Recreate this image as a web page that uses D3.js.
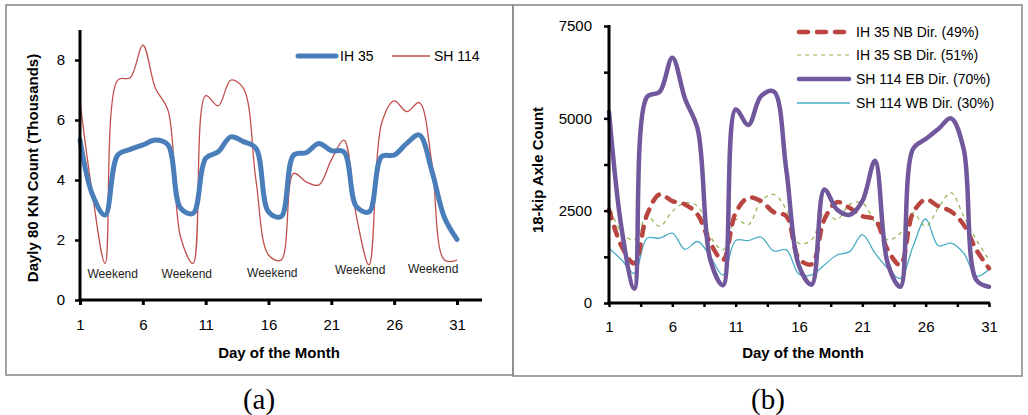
<!DOCTYPE html>
<html><head><meta charset="utf-8">
<script src="https://cdn.jsdelivr.net/npm/d3@7"></script>
<style>
html,body{margin:0;padding:0;background:#fff;}
svg{display:block;}
text{font-family:Arial,"Liberation Sans",sans-serif;}
</style></head>
<body>
<svg id="c" width="1028" height="415"></svg>
<script>
// ---------- data ----------
const days = d3.range(1, 32);
const ih35 = [5.33,3.5,2.83,4.83,5.02,5.17,5.33,5.17,3.06,2.89,4.72,4.94,5.44,5.28,5.06,2.94,2.78,4.83,4.91,5.22,4.98,4.94,3.11,2.94,4.78,4.83,5.22,5.5,4.3,2.75,2.02];
const sh114 = [6.61,3.5,1.22,7.33,7.41,8.5,7.06,6.33,2.1,1.22,6.81,6.47,7.33,7.06,4.0,1.5,1.33,4.22,3.94,3.83,4.67,5.33,2.78,1.17,5.89,6.64,6.28,6.58,4.56,1.33,1.33];
const leftXTicks = [1,6,11,16,21,26,31];
const leftYTicks = [0,2,4,6,8];
const weekendLabels = [{day:3.6,v:0.75},{day:9.5,v:0.75},{day:16.3,v:0.78},{day:23.3,v:0.88},{day:29.1,v:0.9}];

const ih35NB = [2530,1530,1075,2390,2940,2760,2670,2390,1620,1165,2440,2850,2760,2460,2350,1200,1050,2260,2730,2575,2350,2260,1440,1030,2440,2800,2620,2480,2120,1440,940];
const ih35SB = [2710,1890,1710,2350,2075,2480,2710,2620,1800,1440,2260,2120,2760,2940,2530,1620,1710,2440,2260,2670,2710,2170,1710,1890,2440,2075,2575,2985,2350,1710,1165];
const sh114EB = [5170,2000,390,5580,5715,6640,5530,4710,1165,480,5240,4820,5600,5730,3600,1000,500,3075,2530,2390,2760,3850,1075,440,4170,4440,4710,5000,4170,620,440];
const sh114WB = [1480,1165,800,1755,1755,1890,1455,1665,1255,755,1690,1690,1785,1410,1440,780,760,1030,1300,1390,1850,1350,940,665,1530,2275,1550,1620,1350,730,910];
const rightXTicks = [1,3.5,6,8.5,11,13.5,16,18.5,21,23.5,26,28.5,31];
const rightYTicks = [0,1250,2500,3750,5000,6250,7500];

const svg = d3.select("#c");

// panel borders
svg.append("rect").attr("x",6).attr("y",5).attr("width",507).attr("height",370)
  .attr("fill","none").attr("stroke","#8c8c8c").attr("stroke-width",1.6);
svg.append("rect").attr("x",513).attr("y",5).attr("width",509).attr("height",371)
  .attr("fill","none").attr("stroke","#8c8c8c").attr("stroke-width",1.6);

// captions
svg.append("text").attr("x",259).attr("y",409).attr("text-anchor","middle")
  .style("font-family","'Liberation Serif','Times New Roman',serif").style("font-size","29px").text("(a)");
svg.append("text").attr("x",768).attr("y",409).attr("text-anchor","middle")
  .style("font-family","'Liberation Serif','Times New Roman',serif").style("font-size","29px").text("(b)");

const curve = d3.curveCatmullRom.alpha(0.5);

// ---------- left chart ----------
{
  const x = d3.scaleLinear().domain([1,31]).range([80,457]);
  const y = d3.scaleLinear().domain([0,9]).range([300,30]);
  const g = svg.append("g");

  const line = arr => d3.line().x((d,i)=>x(days[i])).y(d=>y(d)).curve(curve)(arr);
  g.append("path").attr("d",line(sh114)).attr("fill","none").attr("stroke","#c0504d").attr("stroke-width",1.3);
  g.append("path").attr("d",line(ih35)).attr("fill","none").attr("stroke","#4a7ebb").attr("stroke-width",5).attr("stroke-linejoin","round").attr("stroke-linecap","round");

  // axes
  const xa = g.append("g").attr("transform","translate(0,300)")
    .call(d3.axisBottom(x).tickValues(leftXTicks).tickSize(5).tickSizeOuter(0).tickPadding(14));
  xa.select(".domain").remove();
  xa.selectAll(".tick line").attr("stroke","#000").attr("stroke-width",3);
  xa.selectAll("text").style("font-size","15px").attr("fill","#000");
  g.append("line").attr("x1",78.5).attr("x2",482).attr("y1",300).attr("y2",300).attr("stroke","#000").attr("stroke-width",3);

  const ya = g.append("g").attr("transform","translate(80,0)")
    .call(d3.axisLeft(y).tickValues(leftYTicks).tickSize(5).tickSizeOuter(0).tickPadding(10));
  ya.select(".domain").remove();
  ya.selectAll(".tick line").attr("stroke","#000").attr("stroke-width",2.5);
  ya.selectAll("text").style("font-size","15px").attr("fill","#000");
  g.append("line").attr("x1",80).attr("x2",80).attr("y1",30).attr("y2",301.5).attr("stroke","#000").attr("stroke-width",3);

  g.append("text").attr("x",279).attr("y",358).attr("text-anchor","middle")
    .style("font-size","15px").style("font-weight","bold").text("Day of the Month");
  g.append("text").attr("transform","translate(38,168) rotate(-90)").attr("text-anchor","middle")
    .style("font-size","15px").style("font-weight","bold").text("Dayly 80 KN Count (Thousands)");

  g.selectAll(".wk").data(weekendLabels).enter().append("text")
    .attr("x",d=>x(d.day)).attr("y",d=>y(d.v)).attr("text-anchor","middle")
    .style("font-size","12px").attr("fill","#222").text("Weekend");

  // legend
  g.append("line").attr("x1",298).attr("x2",336).attr("y1",56).attr("y2",56).attr("stroke","#4a7ebb").attr("stroke-width",5).attr("stroke-linecap","round");
  g.append("text").attr("x",340).attr("y",61).style("font-size","14px").text("IH 35");
  g.append("line").attr("x1",392).attr("x2",430).attr("y1",56).attr("y2",56).attr("stroke","#c0504d").attr("stroke-width",1.3);
  g.append("text").attr("x",434).attr("y",61).style("font-size","14px").text("SH 114");
}

// ---------- right chart ----------
{
  const x = d3.scaleLinear().domain([1,31]).range([609,989]);
  const y = d3.scaleLinear().domain([0,7500]).range([303,26]);
  const g = svg.append("g");
  const line = arr => d3.line().x((d,i)=>x(days[i])).y(d=>y(d)).curve(curve)(arr);

  const series = [
    {name:"IH 35 NB Dir. (49%)", data:ih35NB, color:"#b8453f", w:4.5, dash:"9,9", cap:"round"},
    {name:"IH 35 SB Dir. (51%)", data:ih35SB, color:"#8fb34a", w:1.2, dash:"4,4", cap:"butt"},
    {name:"SH 114 EB Dir. (70%)", data:sh114EB, color:"#71579c", w:4.5, dash:null, cap:"round"},
    {name:"SH 114 WB Dir. (30%)", data:sh114WB, color:"#4bacc6", w:1.3, dash:null, cap:"butt"}
  ];
  const drawOrder = [3,1,0,2];
  drawOrder.forEach(i=>{
    const s = series[i];
    g.append("path").attr("d",line(s.data)).attr("fill","none").attr("stroke",s.color)
      .attr("stroke-width",s.w).attr("stroke-dasharray",s.dash).attr("stroke-linecap",s.cap).attr("stroke-linejoin","round");
  });

  const xa = g.append("g").attr("transform","translate(0,303)")
    .call(d3.axisBottom(x).tickValues(rightXTicks).tickSize(4).tickSizeOuter(0).tickPadding(14)
      .tickFormat(d=>Number.isInteger(d)?d:""));
  xa.select(".domain").remove();
  xa.selectAll(".tick line").attr("stroke","#000").attr("stroke-width",2.5);
  xa.selectAll("text").style("font-size","15px").attr("fill","#000");
  g.append("line").attr("x1",607.5).attr("x2",990).attr("y1",303).attr("y2",303).attr("stroke","#000").attr("stroke-width",3);

  const ya = g.append("g").attr("transform","translate(609,0)")
    .call(d3.axisLeft(y).tickValues(rightYTicks).tickSize(5).tickSizeOuter(0).tickPadding(12)
      .tickFormat(d=>d%2500===0?d:""));
  ya.select(".domain").remove();
  ya.selectAll(".tick line").attr("stroke","#000").attr("stroke-width",2.5);
  ya.selectAll("text").style("font-size","15px").attr("fill","#000");
  g.append("line").attr("x1",609).attr("x2",609).attr("y1",25).attr("y2",304.5).attr("stroke","#000").attr("stroke-width",3);

  g.append("text").attr("x",803).attr("y",358).attr("text-anchor","middle")
    .style("font-size","15px").style("font-weight","bold").text("Day of the Month");
  g.append("text").attr("transform","translate(543,170) rotate(-90)").attr("text-anchor","middle")
    .style("font-size","15px").style("font-weight","bold").text("18-kip Axle Count");

  const ly = [32,55,79,103];
  series.forEach((s,i)=>{
    g.append("line").attr("x1",s.cap==="round"?799:797).attr("x2",s.cap==="round"?849:850).attr("y1",ly[i]).attr("y2",ly[i])
      .attr("stroke",s.color).attr("stroke-width",s.w).attr("stroke-dasharray",s.dash).attr("stroke-linecap",s.cap);
    g.append("text").attr("x",856).attr("y",ly[i]+5).style("font-size","14px").text(s.name);
  });
}
</script>
</body></html>
